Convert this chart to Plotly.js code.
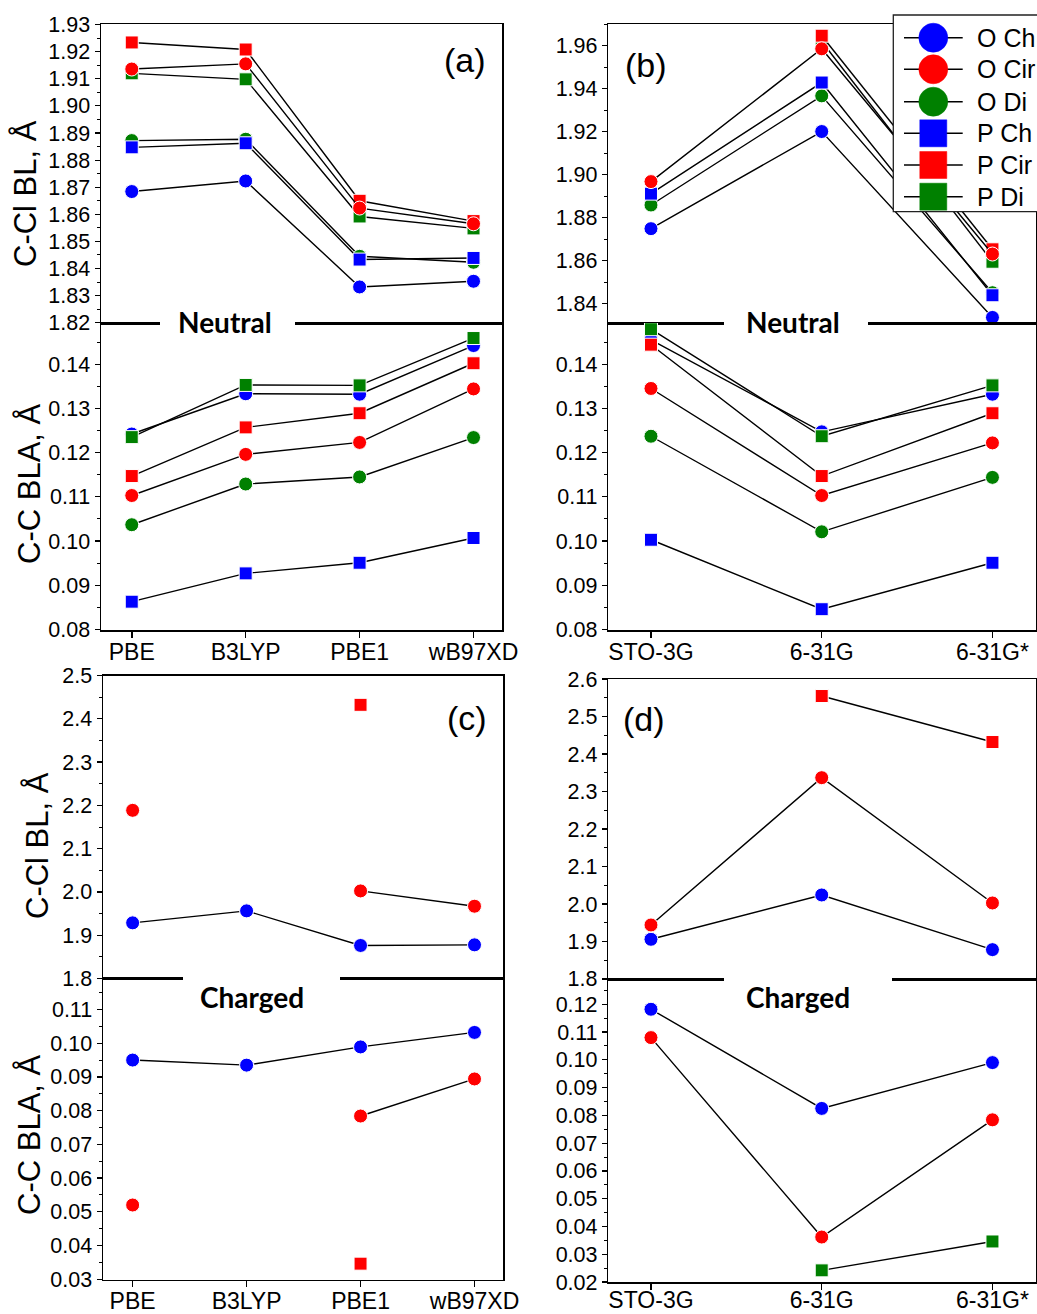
<!DOCTYPE html>
<html>
<head>
<meta charset="utf-8">
<script src="https://cdn.plot.ly/plotly-3.0.1.min.js"></script>
<style>
html,body{margin:0;padding:0;background:#fff;}
#chart{width:1037px;height:1314px;}
</style>
</head>
<body>
<div id="chart"></div>
<script>
// ---------------- DATA ----------------
const funcCats = ['PBE', 'B3LYP', 'PBE1', 'wB97XD'];
const basisCats = ['STO-3G', '6-31G', '6-31G*'];
const seriesNames = ['O Ch', 'O Cir', 'O Di', 'P Ch', 'P Cir', 'P Di'];

// (a) Neutral, C-Cl BL vs functional
const aBL_OCh  = [1.8684, 1.8723, 1.8332, 1.8353];
const aBL_OCir = [1.9136, 1.9155, 1.8623, 1.8565];
const aBL_ODi  = [1.8872, 1.8877, 1.8445, 1.8423];
const aBL_PCh  = [1.8847, 1.8862, 1.8433, 1.8439];
const aBL_PCir = [1.9234, 1.9208, 1.8650, 1.8575];
const aBL_PDi  = [1.9120, 1.9098, 1.8592, 1.8548];
// (a) Neutral, C-C BLA vs functional
const aBLA_OCh  = [0.1242, 0.1333, 0.1332, 0.1442];
const aBLA_OCir = [0.1103, 0.1196, 0.1223, 0.1344];
const aBLA_ODi  = [0.1037, 0.1129, 0.1145, 0.1234];
const aBLA_PCh  = [0.0863, 0.0927, 0.0951, 0.1007];
const aBLA_PCir = [0.1147, 0.1257, 0.1289, 0.1402];
const aBLA_PDi  = [0.1235, 0.1353, 0.1352, 0.1459];
// (b) Neutral, C-Cl BL vs basis
const bBL_OCh  = [1.8749, 1.9201, 1.8336];
const bBL_OCir = [1.8968, 1.9586, 1.8631];
const bBL_ODi  = [1.8859, 1.9367, 1.8451];
const bBL_PCh  = [1.8912, 1.9429, 1.8439];
const bBL_PCir = [null, 1.9647, 1.8653];
const bBL_PDi  = [null, 1.9620, 1.8595];
// (b) Neutral, C-C BLA vs basis
const bBLA_OCh  = [0.1455, 0.1247, 0.1332];
const bBLA_OCir = [0.1345, 0.1103, 0.1222];
const bBLA_ODi  = [0.1237, 0.1021, 0.1144];
const bBLA_PCh  = [0.1003, 0.0846, 0.0951];
const bBLA_PCir = [0.1444, 0.1147, 0.1289];
const bBLA_PDi  = [0.1479, 0.1237, 0.1352];
// (c) Charged, C-Cl BL vs functional
const cBL_OCh  = [1.9285, 1.9562, 1.8762, 1.8777];
const cBL_OCir = [2.1885, null, 2.0023, 1.9669];
const cBL_PCir = [null, null, 2.4323, null];
// (c) Charged, C-C BLA vs functional
const cBLA_OCh  = [0.0950, 0.0935, 0.0989, 0.1032];
const cBLA_OCir = [0.0520, null, 0.0784, 0.0894];
const cBLA_PCir = [null, null, 0.0346, null];
// (d) Charged, C-Cl BL vs basis
const dBL_OCh  = [1.9058, 2.0240, 1.8782];
const dBL_OCir = [1.9440, 2.3369, 2.0027];
const dBL_PCir = [null, 2.5547, 2.4320];
// (d) Charged, C-C BLA vs basis
const dBLA_OCh  = [0.1182, 0.0825, 0.0990];
const dBLA_OCir = [0.1080, 0.0362, 0.0784];
const dBLA_PDi  = [null, 0.0242, 0.0346];

// ---------------- STYLE ----------------
const W = 1037, H = 1314;
const px = v => v / W;
const py = v => 1 - v / H;
const FONT = 'Liberation Sans, Arial, Helvetica, sans-serif';
const BOLDFONT = 'Lato, Open Sans, sans-serif';

const style = {
  'O Ch':  {color: '#0000FF', symbol: 'circle'},
  'O Cir': {color: '#FF0000', symbol: 'circle'},
  'O Di':  {color: '#008000', symbol: 'circle'},
  'P Ch':  {color: '#0000FF', symbol: 'square'},
  'P Cir': {color: '#FF0000', symbol: 'square'},
  'P Di':  {color: '#008000', symbol: 'square'}
};
const drawOrder = ['O Ch', 'O Di', 'P Ch', 'P Di', 'P Cir', 'O Cir'];

const subplots = [
  {n: 1, cats: funcCats,  series: {'O Ch': aBL_OCh, 'O Cir': aBL_OCir, 'O Di': aBL_ODi, 'P Ch': aBL_PCh, 'P Cir': aBL_PCir, 'P Di': aBL_PDi}},
  {n: 2, cats: funcCats,  series: {'O Ch': aBLA_OCh, 'O Cir': aBLA_OCir, 'O Di': aBLA_ODi, 'P Ch': aBLA_PCh, 'P Cir': aBLA_PCir, 'P Di': aBLA_PDi}},
  {n: 3, cats: basisCats, series: {'O Ch': bBL_OCh, 'O Cir': bBL_OCir, 'O Di': bBL_ODi, 'P Ch': bBL_PCh, 'P Cir': bBL_PCir, 'P Di': bBL_PDi}},
  {n: 4, cats: basisCats, series: {'O Ch': bBLA_OCh, 'O Cir': bBLA_OCir, 'O Di': bBLA_ODi, 'P Ch': bBLA_PCh, 'P Cir': bBLA_PCir, 'P Di': bBLA_PDi}},
  {n: 5, cats: funcCats,  series: {'O Ch': cBL_OCh, 'O Cir': cBL_OCir, 'P Cir': cBL_PCir}},
  {n: 6, cats: funcCats,  series: {'O Ch': cBLA_OCh, 'O Cir': cBLA_OCir, 'P Cir': cBLA_PCir}},
  {n: 7, cats: basisCats, series: {'O Ch': dBL_OCh, 'O Cir': dBL_OCir, 'P Cir': dBL_PCir}},
  {n: 8, cats: basisCats, series: {'O Ch': dBLA_OCh, 'O Cir': dBLA_OCir, 'P Di': dBLA_PDi}}
];

const traces = [];
subplots.forEach(sp => {
  drawOrder.forEach(name => {
    const vals = sp.series[name];
    if (!vals) return;
    const st = style[name];
    traces.push({
      type: 'scatter', mode: 'lines+markers', name: name,
      x: sp.cats, y: vals,
      xaxis: 'x' + sp.n, yaxis: 'y' + sp.n,
      line: {color: 'black', width: 1.4},
      marker: {symbol: st.symbol, color: st.color, size: st.symbol === 'circle' ? 14 : 13,
               line: {color: 'white', width: 1}},
      connectgaps: false, showlegend: false, hoverinfo: 'x+y+name'
    });
  });
});

// ---------------- LAYOUT ----------------
// pixel frames of each subplot: [x0, x1, y0(top), y1(bottom)]
const frames = {
  1: [101, 502, 24.3, 323], 2: [101, 502, 323, 630],
  3: [608.3, 1036, 24.3, 323], 4: [608.3, 1036, 323, 630],
  5: [103, 503, 675.5, 978.5], 6: [103, 503, 978.5, 1279.5],
  7: [608.3, 1036, 679, 979], 8: [608.3, 1036, 979, 1282.3]
};
const xRanges = {1: [-0.27, 3.25], 2: [-0.27, 3.25], 5: [-0.26, 3.25], 6: [-0.26, 3.25],
                 3: [-0.25, 2.255], 4: [-0.25, 2.255], 7: [-0.25, 2.255], 8: [-0.25, 2.255]};
const yCfg = {
  1: {range: [1.8199, 1.9301], dtick: 0.01, tick0: 1.82, fmt: '.2f'},
  2: {range: [0.0799, 0.1493], dtick: 0.01, tick0: 0.08, fmt: '.2f'},
  3: {range: [1.831, 1.970],   dtick: 0.02, tick0: 1.84, fmt: '.2f'},
  4: {range: [0.0799, 0.1493], dtick: 0.01, tick0: 0.08, fmt: '.2f'},
  5: {range: [1.7999, 2.5001], dtick: 0.1,  tick0: 1.8,  fmt: '.1f'},
  6: {range: [0.0299, 0.1192], dtick: 0.01, tick0: 0.03, fmt: '.2f'},
  7: {range: [1.7999, 2.6001], dtick: 0.1,  tick0: 1.8,  fmt: '.1f'},
  8: {range: [0.0199, 0.1291], dtick: 0.01, tick0: 0.02, fmt: '.2f'}
};
const xStandoff = {2: -5, 4: -5, 6: -6, 8: -9};

const layout = {
  width: W, height: H,
  margin: {l: 0, r: 0, t: 0, b: 0, pad: 0},
  paper_bgcolor: 'white', plot_bgcolor: 'white',
  showlegend: false,
  font: {family: FONT, color: 'black'},
  shapes: [], annotations: []
};

subplots.forEach(sp => {
  const n = sp.n, f = frames[n], lower = (n % 2 === 0);
  const cfg = yCfg[n];
  layout['xaxis' + n] = {
    domain: [px(f[0]), px(f[1])], anchor: 'y' + n,
    type: 'category', categoryorder: 'array', categoryarray: sp.cats,
    range: xRanges[n],
    showline: true, linecolor: 'black', linewidth: 1.5, mirror: true,
    showgrid: false, zeroline: false,
    ticks: lower ? 'outside' : '', ticklen: 6, tickwidth: 1.5, tickcolor: 'black',
    showticklabels: lower, ticklabelstandoff: lower ? xStandoff[n] : 0,
    tickfont: {family: FONT, size: 23, color: 'black'},
    fixedrange: true
  };
  layout['yaxis' + n] = {
    domain: [py(f[3]), py(f[2])], anchor: 'x' + n,
    range: cfg.range, tick0: cfg.tick0, dtick: cfg.dtick, tickformat: cfg.fmt,
    showline: true, linecolor: 'black', linewidth: 1.5, mirror: true,
    showgrid: false, zeroline: false,
    ticks: 'outside', ticklen: 5, tickwidth: 1.2, tickcolor: 'black',
    minor: {dtick: cfg.dtick / 2, tick0: cfg.tick0, ticks: 'outside', ticklen: 3, tickwidth: 1, tickcolor: 'black', showgrid: false},
    tickfont: {family: FONT, size: 21.5, color: 'black'},
    fixedrange: true
  };
});

// gaps in the divider lines, and the section labels
const gaps = [
  {x0: 160, x1: 295, y: 323, text: 'Neutral', tx: 225, ty: 322},
  {x0: 724, x1: 868, y: 323, text: 'Neutral', tx: 793, ty: 322},
  {x0: 183, x1: 340, y: 978.5, text: 'Charged', tx: 252, ty: 997},
  {x0: 724, x1: 892, y: 979, text: 'Charged', tx: 798, ty: 997}
];
gaps.forEach(g => {
  layout.shapes.push({type: 'rect', xref: 'paper', yref: 'paper', layer: 'above',
    x0: px(g.x0), x1: px(g.x1), y0: py(g.y + 3), y1: py(g.y - 3),
    fillcolor: 'white', line: {width: 0}});
  layout.annotations.push({xref: 'paper', yref: 'paper', x: px(g.tx), y: py(g.ty),
    xanchor: 'center', yanchor: 'middle', showarrow: false, text: '<b>' + g.text + '</b>',
    font: {family: BOLDFONT, size: 28, color: 'black'}});
});

// axis titles
const titles = [
  {text: 'C-Cl BL, Å',  x: 25, y: 194},
  {text: 'C-C BLA, Å', x: 29, y: 484},
  {text: 'C-Cl BL, Å',  x: 37, y: 846},
  {text: 'C-C BLA, Å', x: 29, y: 1135}
];
titles.forEach(t => layout.annotations.push({xref: 'paper', yref: 'paper', x: px(t.x), y: py(t.y),
  xanchor: 'center', yanchor: 'middle', showarrow: false, textangle: -90, text: t.text,
  font: {family: FONT, size: 31, color: 'black'}}));

// panel labels
const panelLabels = [
  {text: '(a)', x: 465, y: 60}, {text: '(b)', x: 646, y: 65},
  {text: '(c)', x: 467, y: 718}, {text: '(d)', x: 644, y: 719}
];
panelLabels.forEach(p => layout.annotations.push({xref: 'paper', yref: 'paper', x: px(p.x), y: py(p.y),
  xanchor: 'center', yanchor: 'middle', showarrow: false, text: p.text,
  font: {family: FONT, size: 34, color: 'black'}}));

// legend box (in panel b)
layout.shapes.push({type: 'rect', xref: 'paper', yref: 'paper', layer: 'above',
  x0: px(893.3), x1: px(1045), y0: py(211.7), y1: py(15),
  fillcolor: 'white', line: {color: '#222', width: 1.3}});
const legRowY = [37.7, 69.3, 101.7, 133.3, 165, 196.7];
seriesNames.forEach((name, i) => {
  const st = style[name], yc = legRowY[i];
  layout.shapes.push({type: 'line', xref: 'paper', yref: 'paper', layer: 'above',
    x0: px(904), x1: px(962.7), y0: py(yc), y1: py(yc), line: {color: 'black', width: 1.5}});
  const r = st.symbol === 'circle' ? 14.5 : 13.5;
  layout.shapes.push({type: st.symbol === 'circle' ? 'circle' : 'rect', xref: 'paper', yref: 'paper', layer: 'above',
    x0: px(933.3 - r), x1: px(933.3 + r), y0: py(yc + r), y1: py(yc - r),
    fillcolor: st.color, line: {color: st.color, width: 0.5}});
  layout.annotations.push({xref: 'paper', yref: 'paper', x: px(975), y: py(yc),
    xanchor: 'left', yanchor: 'middle', showarrow: false, text: name,
    font: {family: FONT, size: 25, color: 'black'}});
});

Plotly.newPlot('chart', traces, layout, {displayModeBar: false, staticPlot: true});
</script>
</body>
</html>
